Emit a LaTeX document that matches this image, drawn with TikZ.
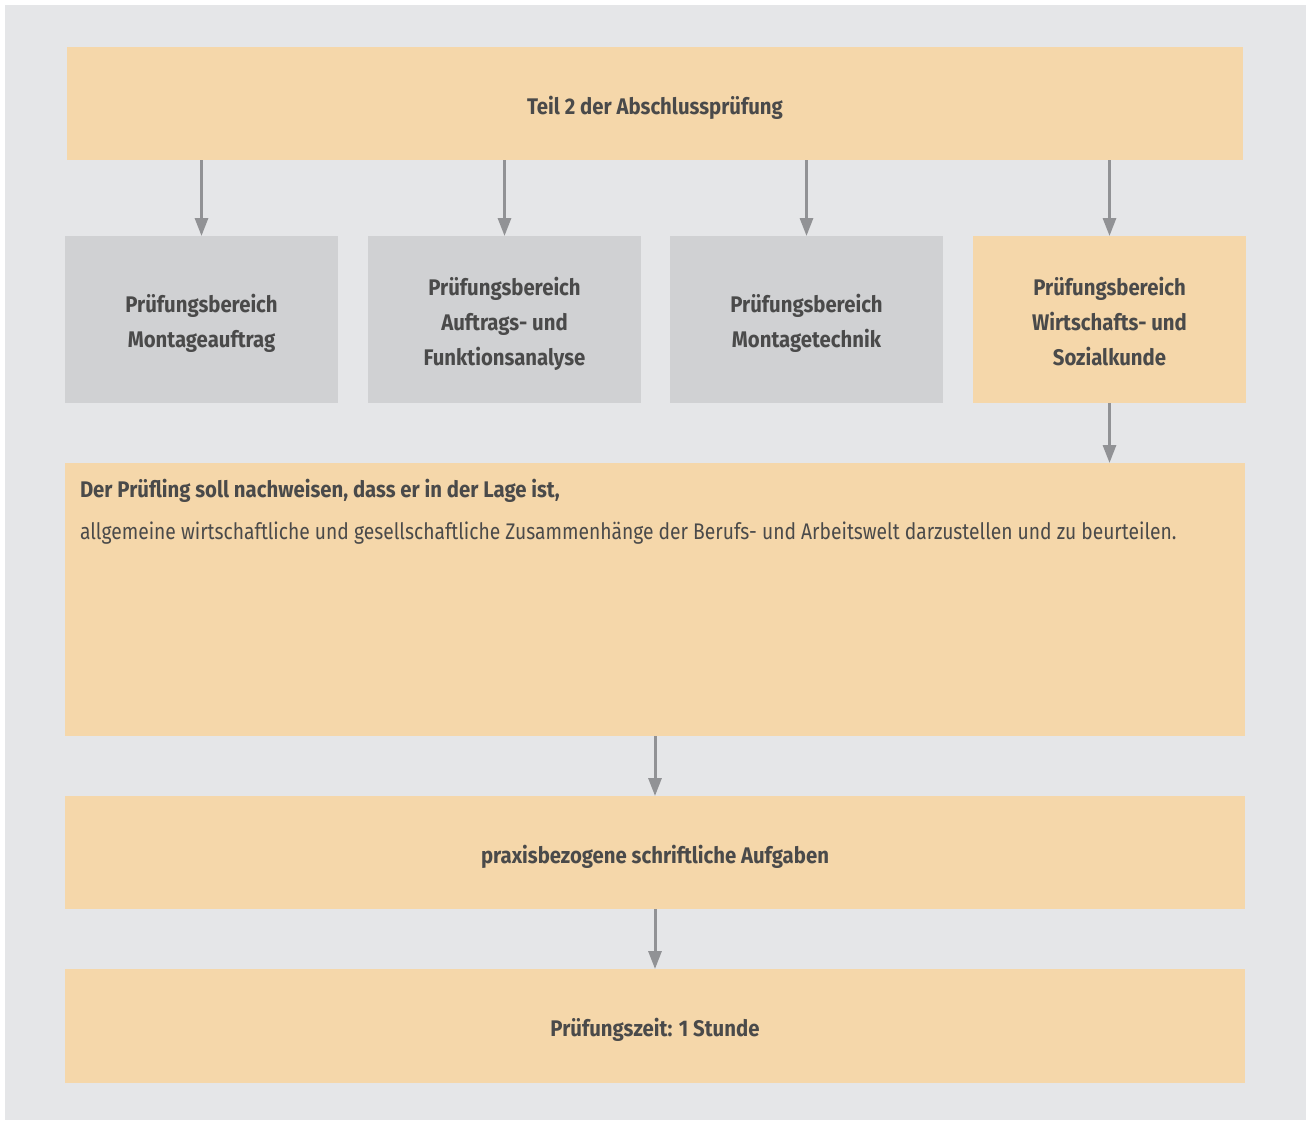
\documentclass[tikz,border=0pt]{standalone}
\usepackage{fontspec}
\setmainfont{Fira Sans}[FakeStretch=0.852, BoldFeatures={FakeStretch=0.9}]
\usetikzlibrary{arrows.meta}
\definecolor{bgc}{HTML}{E5E6E8}
\definecolor{orng}{HTML}{F5D7AA}
\definecolor{grb}{HTML}{D0D1D3}
\definecolor{arrc}{HTML}{919295}
\definecolor{txt}{HTML}{4A4A4A}
\newcommand\mytx[1]{\raisebox{-3.5pt}[\height][\depth]{\begin{tabular}{@{}c@{}}#1\end{tabular}}}
\tikzset{
  box/.style={inner sep=0pt, outer sep=0pt, anchor=north west, text=txt, font=\fontsize{22.6}{35}\selectfont\bfseries},
  obox/.style={box, fill=orng},
  gbox/.style={box, fill=grb},
  arr/.style={draw=arrc, line width=3pt, -{Triangle[width=13pt,length=18pt]}},
}
\begin{document}
\begin{tikzpicture}[x=1pt,y=-1pt]
\useasboundingbox (0,0) rectangle (1306,1120);
\fill[bgc] (5,5) rectangle (1306,1120);
\node[obox, minimum width=1176pt, minimum height=113pt] (top) at (67,47) {\mytx{Teil 2 der Abschlussprüfung}};
\node[gbox, minimum width=273pt, minimum height=167pt] (b1) at (65,236) {\mytx{Prüfungsbereich\\Montageauftrag}};
\node[gbox, minimum width=273pt, minimum height=167pt] (b2) at (368,236) {\mytx{Prüfungsbereich\\Auftrags- und\\Funktionsanalyse}};
\node[gbox, minimum width=273pt, minimum height=167pt] (b3) at (670,236) {\mytx{Prüfungsbereich\\Montagetechnik}};
\node[obox, minimum width=273pt, minimum height=167pt] (b4) at (973,236) {\mytx{Prüfungsbereich\\Wirtschafts- und\\Sozialkunde}};
\node[obox, minimum width=1180pt, minimum height=273pt] (big) at (65,463) {};
\node[box, anchor=north west, align=left, font=\fontsize{22.6}{42}\selectfont] (bigtext) at ([xshift=15pt,yshift=-16.5pt]big.north west)
  {\bfseries Der Prüfling soll nachweisen, dass er in der Lage ist,\\
   allgemeine wirtschaftliche und gesellschaftliche Zusammenhänge der Berufs- und Arbeitswelt darzustellen und zu beurteilen.};
\node[obox, minimum width=1180pt, minimum height=113pt] (prax) at (65,796) {\mytx{praxisbezogene schriftliche Aufgaben}};
\node[obox, minimum width=1180pt, minimum height=114pt] (zeit) at (65,969) {\mytx{Prüfungszeit: 1 Stunde}};
\foreach \b in {b1,b2,b3,b4}{
  \draw[arr] (top.south -| \b.north) -- (\b.north);
}
\draw[arr] (b4.south) -- (big.north -| b4.south);
\draw[arr] (big.south -| prax.north) -- (prax.north);
\draw[arr] (prax.south) -- (zeit.north);
\end{tikzpicture}
\end{document}
